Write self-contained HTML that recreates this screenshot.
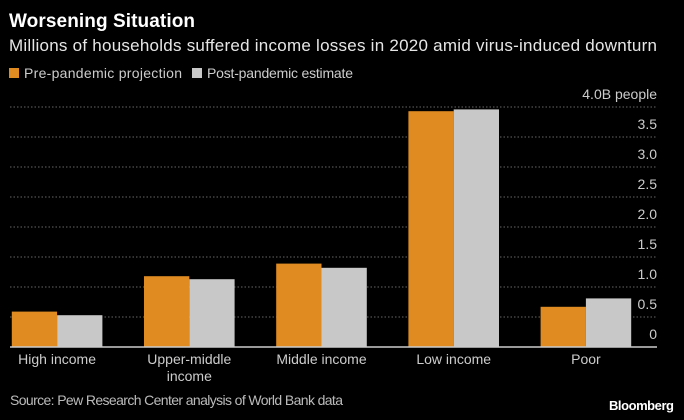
<!DOCTYPE html>
<html><head><meta charset="utf-8"><style>
body{margin:0;background:#000;width:684px;height:415px;overflow:hidden;font-family:"Liberation Sans",sans-serif;}
</style></head><body>
<svg width="684" height="415">
<rect width="684" height="415" fill="#000"/>
<text x="9" y="27" fill="#fff" font-size="19" font-weight="bold" textLength="186">Worsening Situation</text>
<text x="9" y="51" fill="#e6e6e6" font-size="17" textLength="648">Millions of households suffered income losses in 2020 amid virus-induced downturn</text>
<g>
<rect x="9" y="68" width="10" height="10" fill="#e08b22"/>
<text x="24" y="78" fill="#ccc" font-size="14" textLength="158">Pre-pandemic projection</text>
<rect x="192" y="68" width="10" height="10" fill="#c8c8c8"/>
<text x="207" y="78" fill="#ccc" font-size="14" textLength="146">Post-pandemic estimate</text>
</g>
<g id="grid"></g><g id="bars"></g><g id="labels"></g>
<line x1="10" x2="657" y1="347" y2="347" stroke="#ccc" stroke-width="1.5"/>
<text x="10" y="405" fill="#bbb" font-size="14" textLength="333">Source: Pew Research Center analysis of World Bank data</text>
<text x="674" y="410" fill="#fff" font-size="13" font-weight="bold" text-anchor="end" textLength="65">Bloomberg</text>
</svg>
<script>
const categories=["High income","Upper-middle|income","Middle income","Low income","Poor"];
const preValues=[0.59,1.18,1.39,3.93,0.67];
const postValues=[0.53,1.13,1.32,3.96,0.81];
const ticks=[0,0.5,1,1.5,2,2.5,3,3.5,4];
const tickLabels=["0","0.5","1.0","1.5","2.0","2.5","3.0","3.5","4.0B people"];
const NS="http://www.w3.org/2000/svg";
const BW=45.3;
function y(v){return 347-v*60;}
function gx(i){return 11.8+i*132.2;}
function mk(t,a,p){const e=document.createElementNS(NS,t);for(const k in a)e.setAttribute(k,a[k]);p.appendChild(e);return e;}
const grid=document.getElementById('grid'),bars=document.getElementById('bars'),labels=document.getElementById('labels');
ticks.forEach((t,i)=>{
 if(t>0){const l=mk('line',{x1:10,x2:657,y1:y(t),y2:y(t),stroke:'#666','stroke-dasharray':'1.5,2'},grid);
 
 }
 const tx=mk('text',{x:657,y:y(t)-8,fill:'#ccc','font-size':14,'text-anchor':'end'},grid);
 tx.textContent=tickLabels[i];
 
 
});
categories.forEach((c,i)=>{
 const b1=mk('rect',{x:gx(i),y:y(preValues[i]),width:BW,height:preValues[i]*60,fill:'#e08b22'},bars);
 
 
 const b2=mk('rect',{x:gx(i)+BW,y:y(postValues[i]),width:BW,height:postValues[i]*60,fill:'#c8c8c8'},bars);
 
 
 c.split('|').forEach((ln,j)=>{
  const t=mk('text',{x:gx(i)+BW,y:364+j*17,fill:'#ccc','font-size':14,'text-anchor':'middle'},labels);
  t.textContent=ln;
  
  
 });
});
</script>
</body></html>
